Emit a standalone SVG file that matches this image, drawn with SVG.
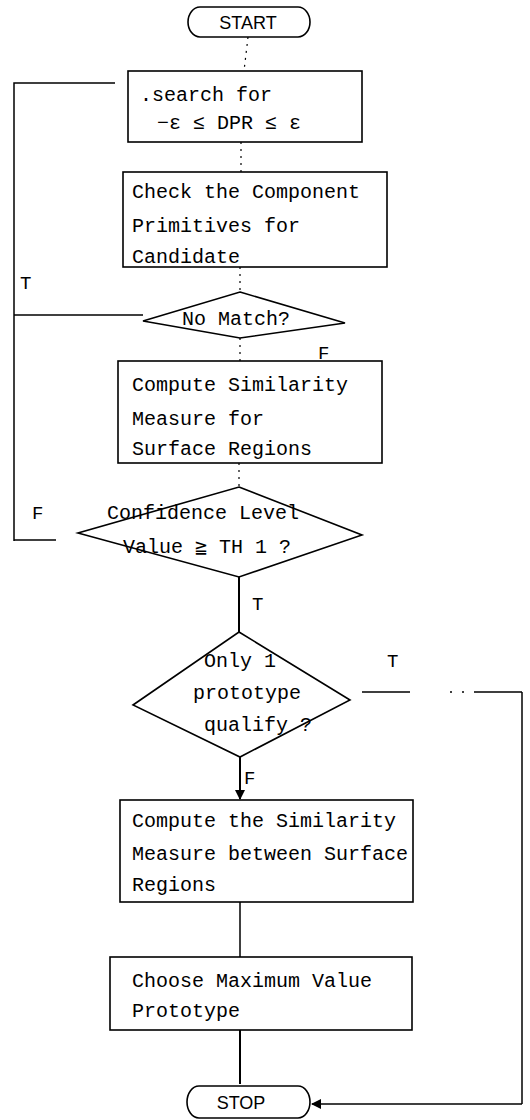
<svg xmlns="http://www.w3.org/2000/svg" width="530" height="1120" viewBox="0 0 530 1120">
<defs>
<marker id="arr" viewBox="0 0 10 10" refX="9" refY="5" markerWidth="10" markerHeight="10" orient="auto" markerUnits="userSpaceOnUse">
<path d="M0,0 L10,5 L0,10 z" fill="#000"/>
</marker>
<style>
.box{fill:#fff;stroke:#000;stroke-width:1.6}
.t{font-family:"Liberation Mono","DejaVu Sans Mono",monospace;font-size:20px;fill:#000}
.lbl{font-family:"Liberation Mono","DejaVu Sans Mono",monospace;font-size:19px;fill:#000}
.term{font-family:"Liberation Sans","DejaVu Sans",sans-serif;font-size:18px;fill:#000;text-anchor:middle}
.c{fill:none;stroke:#000;stroke-width:1.5}
.cd{fill:none;stroke:#000;stroke-width:1.2;stroke-dasharray:2 5}
.cs{fill:none;stroke:#000;stroke-width:2}
</style>
</defs>
<rect width="530" height="1120" fill="#fff"/>

<g id="connectors">
<line class="cd" x1="248" y1="37" x2="244" y2="71"/>
<line class="cd" x1="241" y1="142" x2="241" y2="172"/>
<line class="cd" x1="240" y1="267" x2="240" y2="292"/>
<line class="cd" x1="240" y1="338" x2="240" y2="361"/>
<line class="cd" x1="239" y1="463" x2="239" y2="487"/>
<line class="cs" x1="239" y1="577" x2="239" y2="632"/>
<line class="cs" x1="240" y1="757" x2="240" y2="799" marker-end="url(#arr)"/>
<line class="c" x1="240" y1="902" x2="240" y2="957"/>
<line class="cs" x1="240" y1="1030" x2="240" y2="1084"/>
<!-- left loop -->
<polyline class="c" points="14,541 14,83 115,83"/>
<line class="c" x1="14" y1="315" x2="143" y2="315"/>
<line class="c" x1="14" y1="540" x2="56" y2="540"/>
<!-- right loop -->
<line class="c" x1="362" y1="692" x2="522" y2="692" stroke-dasharray="48 40 2 10 2 10 60"/>
<line class="c" x1="522" y1="692" x2="522" y2="1104"/>
<line class="c" x1="522" y1="1104" x2="312" y2="1104" marker-end="url(#arr)"/>
</g>

<g id="start">
<rect x="188" y="7" width="122" height="30" rx="12" ry="15" class="box"/>
<text x="248" y="29" class="term">START</text>
</g>

<g id="search">
<rect x="128" y="71" width="234" height="71" class="box"/>
<text x="140" y="101" class="t">.search for</text>
<text x="157" y="129" class="t">−ε ≤ DPR ≤ ε</text>
</g>

<g id="check">
<rect x="123" y="172" width="264" height="95" class="box"/>
<text x="132" y="198" class="t">Check the Component</text>
<text x="132" y="232" class="t">Primitives for</text>
<text x="132" y="263" class="t">Candidate</text>
</g>

<g id="nomatch">
<polygon points="240,292 345,323 240,338 143,321" class="box"/>
<text x="182" y="325" class="t">No Match?</text>
<text x="20" y="289" class="lbl">T</text>
<text x="318" y="359" class="lbl">F</text>
</g>

<g id="compute1">
<rect x="118" y="361" width="264" height="102" class="box"/>
<text x="132" y="391" class="t">Compute Similarity</text>
<text x="132" y="425" class="t">Measure for</text>
<text x="132" y="455" class="t">Surface Regions</text>
</g>

<g id="confidence">
<polygon points="239,487 362,535 239,577 78,533" class="box"/>
<text x="107" y="519" class="t">Confidence Level</text>
<text x="123" y="553" class="t">Value ≧ TH 1 ?</text>
<text x="32" y="519" class="lbl">F</text>
<text x="252" y="610" class="lbl">T</text>
</g>

<g id="only1">
<polygon points="239,632 350,700 240,757 133,705" class="box"/>
<text x="204" y="667" class="t">Only 1</text>
<text x="193" y="699" class="t">prototype</text>
<text x="204" y="731" class="t">qualify ?</text>
<text x="387" y="667" class="lbl">T</text>
<text x="244" y="784" class="lbl">F</text>
</g>

<g id="compute2">
<rect x="120" y="800" width="293" height="102" class="box"/>
<text x="132" y="827" class="t">Compute the Similarity</text>
<text x="132" y="860" class="t">Measure between Surface</text>
<text x="132" y="891" class="t">Regions</text>
</g>

<g id="choose">
<rect x="110" y="957" width="302" height="73" class="box"/>
<text x="132" y="987" class="t">Choose Maximum Value</text>
<text x="132" y="1017" class="t">Prototype</text>
</g>

<g id="stop">
<rect x="187" y="1086" width="123" height="32" rx="12" ry="16" class="box"/>
<text x="241" y="1109" class="term">STOP</text>
</g>
</svg>
